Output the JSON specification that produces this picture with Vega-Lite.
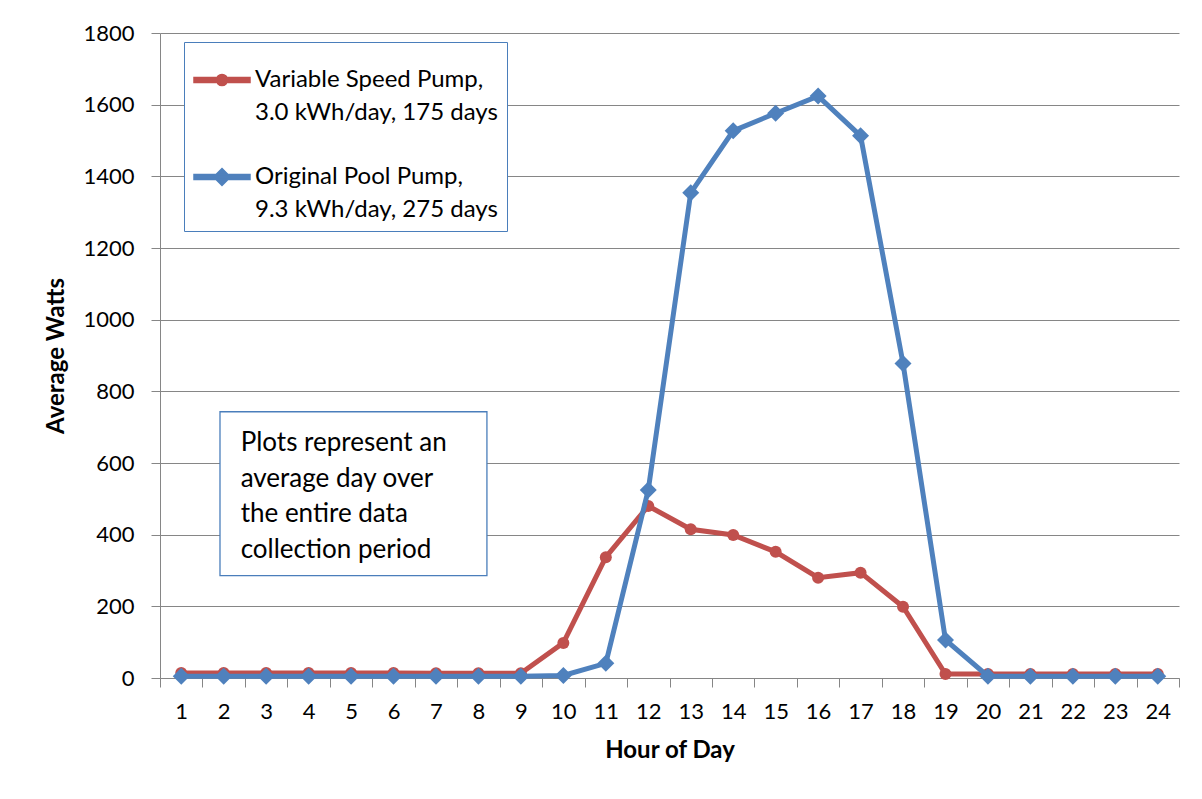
{
  "$schema": "https://vega.github.io/schema/vega-lite/v6.json",
  "width": 1019,
  "height": 645,
  "autosize": "none",
  "padding": {"left": 160, "top": 33, "right": 23, "bottom": 121},
  "background": "white",
  "config": {
    "view": {"stroke": null},
    "font": "Lato",
    "axis": {
      "labelFont": "Lato",
      "labelFontSize": 22,
      "labelColor": "#000000",
      "titleFont": "Lato",
      "titleFontSize": 24,
      "titleFontWeight": "bold",
      "titleColor": "#000000",
      "domainColor": "#868686",
      "tickColor": "#868686",
      "gridColor": "#868686",
      "tickSize": 9
    }
  },
  "datasets": {
    "pumps": [
      {"hour": 1, "series": "Variable Speed Pump", "watts": 14},
      {"hour": 2, "series": "Variable Speed Pump", "watts": 14},
      {"hour": 3, "series": "Variable Speed Pump", "watts": 14},
      {"hour": 4, "series": "Variable Speed Pump", "watts": 14},
      {"hour": 5, "series": "Variable Speed Pump", "watts": 14},
      {"hour": 6, "series": "Variable Speed Pump", "watts": 14},
      {"hour": 7, "series": "Variable Speed Pump", "watts": 13},
      {"hour": 8, "series": "Variable Speed Pump", "watts": 13},
      {"hour": 9, "series": "Variable Speed Pump", "watts": 13},
      {"hour": 10, "series": "Variable Speed Pump", "watts": 98},
      {"hour": 11, "series": "Variable Speed Pump", "watts": 337},
      {"hour": 12, "series": "Variable Speed Pump", "watts": 480},
      {"hour": 13, "series": "Variable Speed Pump", "watts": 415},
      {"hour": 14, "series": "Variable Speed Pump", "watts": 399},
      {"hour": 15, "series": "Variable Speed Pump", "watts": 352},
      {"hour": 16, "series": "Variable Speed Pump", "watts": 280},
      {"hour": 17, "series": "Variable Speed Pump", "watts": 294},
      {"hour": 18, "series": "Variable Speed Pump", "watts": 199},
      {"hour": 19, "series": "Variable Speed Pump", "watts": 11},
      {"hour": 20, "series": "Variable Speed Pump", "watts": 11},
      {"hour": 21, "series": "Variable Speed Pump", "watts": 11},
      {"hour": 22, "series": "Variable Speed Pump", "watts": 11},
      {"hour": 23, "series": "Variable Speed Pump", "watts": 11},
      {"hour": 24, "series": "Variable Speed Pump", "watts": 11},
      {"hour": 1, "series": "Original Pool Pump", "watts": 5},
      {"hour": 2, "series": "Original Pool Pump", "watts": 5},
      {"hour": 3, "series": "Original Pool Pump", "watts": 5},
      {"hour": 4, "series": "Original Pool Pump", "watts": 5},
      {"hour": 5, "series": "Original Pool Pump", "watts": 5},
      {"hour": 6, "series": "Original Pool Pump", "watts": 5},
      {"hour": 7, "series": "Original Pool Pump", "watts": 5},
      {"hour": 8, "series": "Original Pool Pump", "watts": 5},
      {"hour": 9, "series": "Original Pool Pump", "watts": 5},
      {"hour": 10, "series": "Original Pool Pump", "watts": 7},
      {"hour": 11, "series": "Original Pool Pump", "watts": 41},
      {"hour": 12, "series": "Original Pool Pump", "watts": 525},
      {"hour": 13, "series": "Original Pool Pump", "watts": 1354},
      {"hour": 14, "series": "Original Pool Pump", "watts": 1527},
      {"hour": 15, "series": "Original Pool Pump", "watts": 1576},
      {"hour": 16, "series": "Original Pool Pump", "watts": 1624},
      {"hour": 17, "series": "Original Pool Pump", "watts": 1513},
      {"hour": 18, "series": "Original Pool Pump", "watts": 878},
      {"hour": 19, "series": "Original Pool Pump", "watts": 106},
      {"hour": 20, "series": "Original Pool Pump", "watts": 5},
      {"hour": 21, "series": "Original Pool Pump", "watts": 5},
      {"hour": 22, "series": "Original Pool Pump", "watts": 5},
      {"hour": 23, "series": "Original Pool Pump", "watts": 5},
      {"hour": 24, "series": "Original Pool Pump", "watts": 5}
    ],
    "note": [{"id": 1}]
  },
  "resolve": {"scale": {"x": "independent"}},
  "layer": [
    {
      "data": {"name": "pumps"},
      "layer": [
        {
          "transform": [{"filter": "datum.series === 'Variable Speed Pump'"}],
          "mark": {"type": "line", "strokeWidth": 5},
          "encoding": {
            "x": {
              "field": "hour",
              "type": "ordinal",
              "bandPosition": 0.5,
              "scale": {"type": "band", "paddingInner": 0, "paddingOuter": 0},
              "axis": {
                "title": "Hour of Day",
                "labelAngle": 0,
                "tickBand": "extent",
                "grid": false,
                "labelPadding": 14,
                "titlePadding": 16
              }
            },
            "y": {
              "field": "watts",
              "type": "quantitative",
              "scale": {"domain": [0, 1800]},
              "axis": {
                "title": "Average Watts",
                "values": [0, 200, 400, 600, 800, 1000, 1200, 1400, 1600, 1800],
                "format": "d",
                "labelPadding": 17,
                "titlePadding": 14,
                "grid": true
              }
            },
            "color": {
              "field": "series",
              "type": "nominal",
              "scale": {"domain": ["Variable Speed Pump", "Original Pool Pump"], "range": ["#C0504D", "#4F81BD"]},
              "legend": {
                "title": null,
                "orient": "none",
                "legendX": 24,
                "legendY": 9,
                "padding": 9,
                "fillColor": "white",
                "strokeColor": "#4A7EBB",
                "labelFont": "Lato",
                "labelFontSize": 24,
                "labelColor": "#000000",
                "labelLimit": 400,
                "labelOffset": 4,
                "rowPadding": 23,
                "symbolSize": 3136,
                "labelExpr": "datum.label === 'Variable Speed Pump' ? ['Variable Speed Pump,', '3.0 kWh/day, 175 days'] : ['Original Pool Pump,', '9.3 kWh/day, 275 days']",
                "encode": {
                  "symbols": {
                    "update": {
                      "shape": {"signal": "datum.value === 'Variable Speed Pump' ? 'M-1,-0.09H1V0.09H-1Z M-0.2,0A0.2,0.2,0,1,1,0.2,0A0.2,0.2,0,1,1,-0.2,0Z' : 'M-1,-0.09H1V0.09H-1Z M0,-0.3L0.3,0L0,0.3L-0.3,0Z'"},
                      "fill": {"signal": "datum.value === 'Variable Speed Pump' ? '#C0504D' : '#4F81BD'"},
                      "stroke": {"value": "transparent"},
                      "size": {"value": 3136},
                      "opacity": {"value": 1}
                    }
                  },
                  "labels": {"update": {"lineHeight": {"value": 33}}}
                }
              }
            }
          }
        },
        {
          "transform": [{"filter": "datum.series === 'Variable Speed Pump'"}],
          "mark": {"type": "point", "filled": true, "opacity": 1, "shape": "circle", "size": 144},
          "encoding": {
            "x": {"field": "hour", "type": "ordinal", "bandPosition": 0.5},
            "y": {"field": "watts", "type": "quantitative"},
            "color": {"field": "series", "type": "nominal"}
          }
        },
        {
          "transform": [{"filter": "datum.series === 'Original Pool Pump'"}],
          "mark": {"type": "line", "strokeWidth": 5},
          "encoding": {
            "x": {"field": "hour", "type": "ordinal", "bandPosition": 0.5},
            "y": {"field": "watts", "type": "quantitative"},
            "color": {"field": "series", "type": "nominal"}
          }
        },
        {
          "transform": [{"filter": "datum.series === 'Original Pool Pump'"}],
          "mark": {"type": "point", "filled": true, "opacity": 1, "shape": "diamond", "size": 289},
          "encoding": {
            "x": {"field": "hour", "type": "ordinal", "bandPosition": 0.5},
            "y": {"field": "watts", "type": "quantitative"},
            "color": {"field": "series", "type": "nominal"}
          }
        }
      ]
    },
    {
      "data": {"name": "note"},
      "layer": [
        {
          "mark": {"type": "rect", "fill": "white", "stroke": "#4A7EBB", "strokeWidth": 1.3},
          "encoding": {
            "x": {"datum": 1.913, "type": "quantitative", "scale": {"domain": [0.5, 24.5], "nice": false, "zero": false}, "axis": null},
            "x2": {"datum": 8.2},
            "y": {"datum": 743},
            "y2": {"datum": 285.5}
          }
        },
        {
          "mark": {
            "type": "text",
            "align": "left",
            "baseline": "top",
            "font": "Lato",
            "fontSize": 26,
            "lineHeight": 35.5,
            "color": "#000000",
            "text": ["Plots represent an", "average day over", "the entire data", "collection period"]
          },
          "encoding": {
            "x": {"datum": 2.4, "type": "quantitative", "scale": {"domain": [0.5, 24.5], "nice": false, "zero": false}, "axis": null},
            "y": {"datum": 692}
          }
        }
      ]
    }
  ]
}
